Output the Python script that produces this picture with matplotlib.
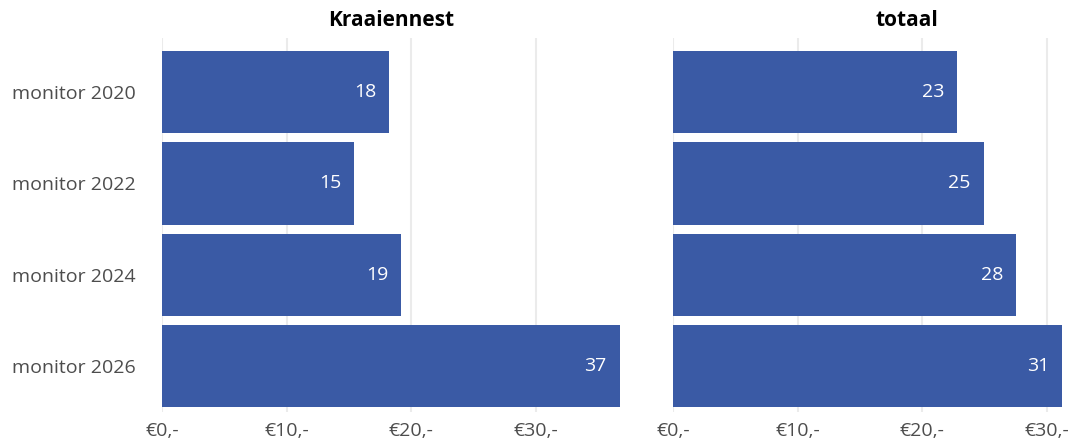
import numpy as np
import matplotlib.pyplot as plt

# data
categorieen = ['monitor 2020', 'monitor 2022', 'monitor 2024', 'monitor 2026']
kraaiennest = [18.2, 15.4, 19.2, 36.7]
totaal = [22.8, 24.9, 27.5, 31.2]
titels = ['Kraaiennest', 'totaal']
xticks = [0, 10, 20, 30]
xtick_labels = ['€0,-', '€10,-', '€20,-', '€30,-']

blauw = '#3a5aa5'
grijs = '#ebebeb'
tekst = '#4d4d4d'

plt.rcParams['font.family'] = ['Open Sans', 'DejaVu Sans']

W, H = 1075, 447
fig = plt.figure(figsize=(W / 100, H / 100), dpi=100)

schaal = 12.47  # pixels per euro, same for both panels
top, bottom = 38, 412
links0 = 162
rechts0 = 673

ax1 = fig.add_axes([links0 / W, 1 - bottom / H, (max(kraaiennest) * schaal) / W, (bottom - top) / H])
ax2 = fig.add_axes([rechts0 / W, 1 - bottom / H, (W - rechts0) / W, (bottom - top) / H])

y = np.arange(len(categorieen))
for ax, waarden in [(ax1, kraaiennest), (ax2, totaal)]:
    ax.barh(y, waarden, height=0.9, color=blauw, zorder=2)
    for yi, v in zip(y, waarden):
        ax.annotate(f'{v:.0f}', (v, yi), xytext=(-13, 0), textcoords='offset pixels',
                    ha='right', va='center', color='white', fontsize=14, zorder=3)
    ax.set_ylim(3.5, -0.59)
    ax.set_xticks(xticks)
    ax.set_xticklabels(xtick_labels)
    ax.grid(axis='x', color=grijs, linewidth=1.5, zorder=0)
    ax.set_axisbelow(True)
    for s in ax.spines.values():
        s.set_visible(False)
    ax.tick_params(axis='both', length=0, labelsize=14, labelcolor=tekst)
    ax.tick_params(axis='x', pad=7)

ax1.set_xlim(0, max(kraaiennest))
ax2.set_xlim(0, (W - rechts0) / schaal)

ax1.set_yticks(y)
ax1.set_yticklabels(categorieen)
ax1.tick_params(axis='y', pad=19)
ax2.set_yticks([])

# facet titles
fig.text((links0 + max(kraaiennest) * schaal / 2) / W, 1 - 20 / H, titels[0],
         ha='center', va='center', fontsize=15, fontweight='bold', color='black')
fig.text(907 / W, 1 - 20 / H, titels[1],
         ha='center', va='center', fontsize=15, fontweight='bold', color='black')

fig.savefig('out.png', dpi=100)
